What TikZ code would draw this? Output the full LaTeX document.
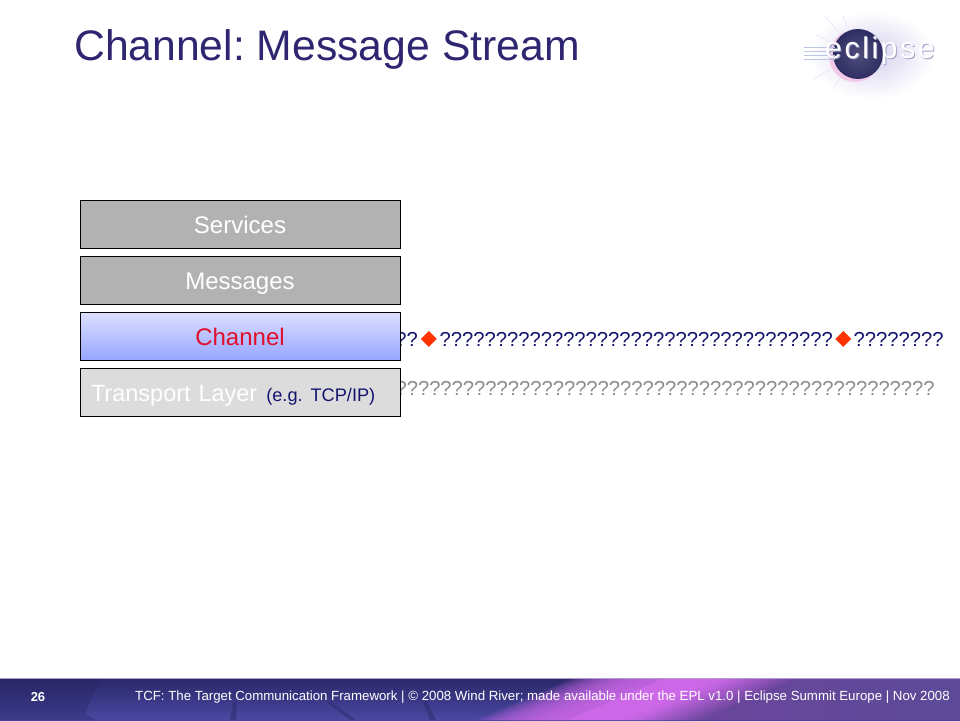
\documentclass[tikz,border=0pt]{standalone}
\usepackage{fontspec}
\setmainfont{Liberation Sans}
\usetikzlibrary{positioning, shapes.geometric}
\definecolor{titleblue}{HTML}{2E2670}
\definecolor{boxgray}{HTML}{B2B2B2}
\definecolor{lightgray}{HTML}{DCDCDC}
\definecolor{channeltop}{HTML}{DDE0FF}
\definecolor{channelbot}{HTML}{96A5FF}
\definecolor{channelred}{HTML}{E0102A}
\definecolor{streamblue}{HTML}{14146E}
\definecolor{streamgray}{HTML}{8C8C8C}
\definecolor{markred}{HTML}{FF3300}
\definecolor{logonavy}{HTML}{2F2E63}
\definecolor{logoglow}{HTML}{D4D0EE}
\definecolor{logoline}{HTML}{BCC6E6}
\definecolor{logopink}{HTML}{F2C8E6}
\definecolor{logoshade}{HTML}{A0A5C8}
\definecolor{footertop}{HTML}{2A2868}
\definecolor{footerbot}{HTML}{4A48A2}
\definecolor{footerdark}{HTML}{25235F}
\definecolor{footerC}{HTML}{6A469C}
\definecolor{footerD}{HTML}{5C4A98}
\definecolor{footerbright}{HTML}{CC68E8}
\definecolor{footeredge}{HTML}{B09CCC}
\begin{document}
\frenchspacing
\begin{tikzpicture}[
    x=1pt, y=-1pt,
    node distance=7pt,
    layerbox/.style={draw=black, line width=1pt, minimum width=320pt, minimum height=48pt, inner sep=0pt, text=white, text height=19pt, text depth=0pt, font=\fontsize{24}{28}\selectfont},
    qmark/.style={inner sep=0pt, anchor=base west, font=\fontsize{20.2}{24}\selectfont},
    markbox/.style={diamond, fill=markred, inner sep=0pt, minimum width=16pt, minimum height=16pt}
]
    \useasboundingbox (0,0) rectangle (960,720);
    \fill[white] (0,0) rectangle (960,720);

    % title and logo
    \node[anchor=base west, inner sep=0pt, text=titleblue, font=\fontsize{42.7}{48}\selectfont] (title) at (74,60) {Channel: Message Stream};
    \shade[inner color=logoglow, outer color=white] (872,55) ellipse (62pt and 44pt);
    \foreach \ang/\len in {150/50, 205/46, 230/50, 250/40, 125/42} {
        \draw[logoglow!40!white, line width=1pt] (857,54) -- ++(\ang:\len);
    }
    \fill[logopink] (855,56) circle (26pt);
    \shade[inner color=logonavy!85!white, outer color=logonavy] (858,54) circle (25pt);
    \foreach \yy in {47,51,55,59} {
        \draw[logoline, line width=1pt] (804,\yy) -- (835,\yy);
    }
    \node[text=logoshade, inner sep=0pt, font=\fontsize{30}{34}\selectfont\addfontfeature{LetterSpace=9}] (logoshadow) at (881,52) {eclipse};
    \node[text=white, inner sep=0pt, font=\fontsize{30}{34}\selectfont\addfontfeature{LetterSpace=9}] (logo) at (880,51) {eclipse};

    % streams behind the layers
    \node[qmark, text=streamblue] (msga) at (384,346) {???};
    \node[markbox, right=2.5pt of msga.east] (marka) {};
    \node[qmark, text=streamblue, right=2.5pt of marka.east] (msgb) {???????????????????????????????????};
    \node[markbox, right=2pt of msgb.east] (markb) {};
    \node[qmark, text=streamblue, right=2pt of markb.east] (msgc) {????????};
    \node[qmark, text=streamgray, anchor=base east] (bytes) at (935,395) {????????????????????????????????????????????????};

    % layers
    \node[layerbox, fill=boxgray] (services) at (240,224) {Services};
    \node[layerbox, fill=boxgray, below=of services] (messages) {Messages};
    \node[layerbox, top color=channeltop, bottom color=channelbot, text=channelred, below=of messages] (channel) {Channel};
    \node[layerbox, fill=lightgray, below=of channel, text width=298pt, inner xsep=11pt, align=left, font=\fontsize{23.5}{28}\selectfont] (transport) {Transport Layer\hspace{9pt}{\fontsize{18.2}{20}\selectfont\color{streamblue}(e.g. TCP/IP)}};

    % footer
    \shade[top color=footertop, bottom color=footerbot] (0,678) rectangle (960,720);
    \fill[footerdark, opacity=.35] (0,678) -- (100,678) -- (85,714) -- (96,720) -- (0,720) -- cycle;
    \foreach \xa/\xb in {233/230, 327/350, 423/430} {
        \fill[footerdark, opacity=.4] (\xa,702) -- (\xa+4,702) -- (\xb+6,720) -- (\xb,720) -- cycle;
    }
    \begin{scope}
        \clip (0,678) rectangle (960,720);
        \begin{scope}[shift={(567,720)}, xslant=2.3]
            \foreach \xa in {-90,-85,...,-5} {
                \fill[footerbright, opacity=.14] (\xa,0) rectangle (0,-42);
            }
            \fill[footerbright] (0,0) rectangle (60,-42);
            \foreach \pct in {0,5,...,100} {
                \fill[footerC!\pct!footerbright] (60+.75*\pct,0) rectangle (64.5+.75*\pct,-42);
            }
            \fill[footerC] (135,0) rectangle (150,-42);
        \end{scope}
        \shade[left color=footerC, right color=footerD] (700,720) -- (797,678) -- (960,678) -- (960,720) -- cycle;
    \end{scope}
    \draw[footeredge, line width=1pt] (0,678) -- (960,678);
    \node[text=white, inner sep=0pt, font=\bfseries\fontsize{13}{14}\selectfont] (pagenum) at (38,697) {26};
    \node[text=white, inner sep=0pt, anchor=east, font=\fontsize{13.26}{14}\selectfont] (footer) at (950,697) {TCF: The Target Communication Framework | © 2008 Wind River; made available under the EPL v1.0 | Eclipse Summit Europe | Nov 2008};
\end{tikzpicture}
\end{document}
